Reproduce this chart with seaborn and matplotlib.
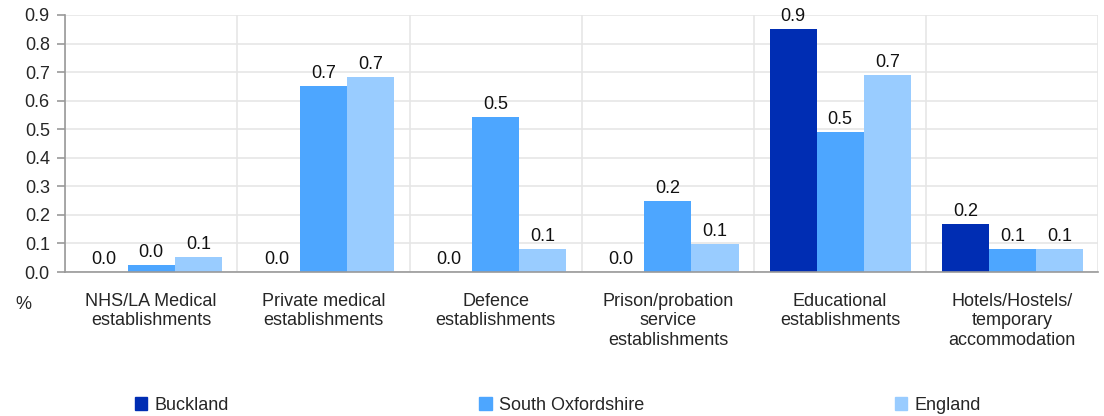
import pandas as pd
import numpy as np
import seaborn as sns
import matplotlib.pyplot as plt

categories = ["NHS/LA Medical\nestablishments", "Private medical\nestablishments",
              "Defence\nestablishments", "Prison/probation\nservice\nestablishments",
              "Educational\nestablishments", "Hotels/Hostels/\ntemporary\naccommodation"]
areas = ["Buckland", "South Oxfordshire", "England"]
buckland = [0.0, 0.0, 0.0, 0.0, 0.852, 0.168]
south_oxon = [0.025, 0.652, 0.543, 0.249, 0.49, 0.08]
england = [0.052, 0.683, 0.08, 0.098, 0.69, 0.08]
colours = ["#002DB3", "#4DA6FF", "#99CCFF"]

rows = []
for name, vals in zip(areas, [buckland, south_oxon, england]):
    for c, v in zip(categories, vals):
        rows.append({"category": c, "area": name, "value": v})
df = pd.DataFrame(rows)

sns.set_style("white")
plt.rcParams['font.family'] = ['Liberation Sans', 'DejaVu Sans']
fs = 13
plt.rcParams['font.size'] = fs

fig = plt.figure(figsize=(11.04, 4.16), dpi=100)
ax = fig.add_axes([0.059, 0.346, 0.936, 0.618])

sns.barplot(data=df, x="category", y="value", hue="area", hue_order=areas,
            palette=colours, width=0.82, saturation=1, linewidth=0, ax=ax, legend=False)

for cont in ax.containers:
    ax.bar_label(cont, fmt="%.1f", padding=3, fontsize=fs, color="#111111")

ax.set_ylim(0, 0.9)
ax.set_xlim(-0.5, 5.5)
ax.set_yticks(np.arange(0, 0.91, 0.1))
ax.set_yticklabels([f"{t:.1f}" for t in np.arange(0, 0.91, 0.1)])
ax.set_xticks(np.arange(-0.5, 6, 1))
ax.set_xticklabels([])
ax.set_xticks(range(len(categories)), minor=True)
ax.set_xticklabels(categories, minor=True)
ax.tick_params(axis="x", which="minor", length=0, pad=15, labelsize=fs)
ax.tick_params(axis="x", which="major", length=6, color="#999999", width=1.2, direction="out")
ax.tick_params(axis="y", length=6, color="#999999", width=1.2, pad=5, labelsize=fs, left=True)
ax.set_xlabel("")
ax.set_ylabel("")

ax.grid(True, which="major", color="#e6e6e6", linewidth=1.2)
ax.set_axisbelow(True)
for s in ["top", "right"]:
    ax.spines[s].set_visible(False)
for s in ["left", "bottom"]:
    ax.spines[s].set_color("#999999")
    ax.spines[s].set_linewidth(1.2)

fig.text(0.014, 0.267, "%", fontsize=fs, va="center", ha="left")

handles = [plt.Rectangle((0, 0), 1, 1, color=c) for c in colours]
fig.legend(handles, areas, loc="center", bbox_to_anchor=(0.1155, 0.01, 0.7795, 0.03),
           mode="expand", ncol=3, frameon=False, handlelength=0.7, handleheight=0.7,
           handletextpad=0.4, fontsize=fs, borderaxespad=0)

fig.savefig("out.png", dpi=100)
